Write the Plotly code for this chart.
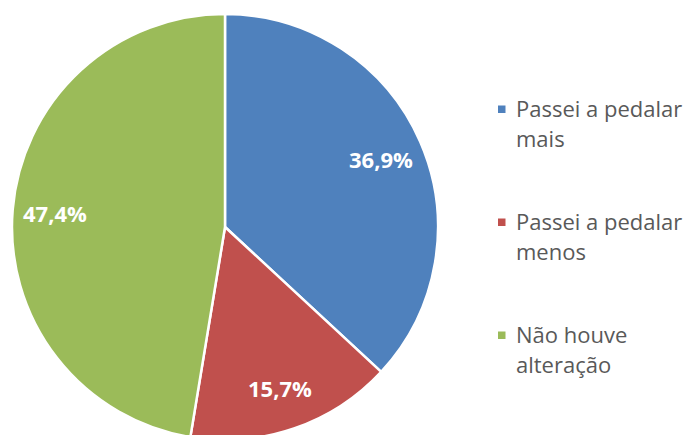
import math
import plotly.graph_objects as go

# dados do gráfico
categorias = ["Passei a pedalar<br>mais", "Passei a pedalar<br>menos", "Não houve<br>alteração"]
valores = [36.9, 15.7, 47.4]
rotulos = ["36,9%", "15,7%", "47,4%"]
cores = ["#4F81BD", "#C0504D", "#9BBB59"]

W, H = 693, 435

# geometria da pizza (px da figura)
cx, cy, R = 217, 219, 213

fig = go.Figure()

fig.add_trace(go.Pie(
    labels=categorias,
    values=valores,
    textinfo="none",
    marker=dict(colors=cores, line=dict(color="white", width=2.5)),
    sort=False,
    direction="clockwise",
    rotation=0,
    domain=dict(x=[(cx - R) / W, (cx + R) / W], y=[1 - (cy + R) / H, 1 - (cy - R) / H]),
    showlegend=False,
    hoverinfo="label+percent",
))

annotations = []
shapes = []

# rótulos de dados, posicionados no ângulo médio de cada fatia
total = sum(valores)
acum = 0
for v, rot in zip(valores, rotulos):
    meio = (acum + v / 2) / total * 2 * math.pi
    acum += v
    r = 0.8 * R
    px = cx + r * math.sin(meio)
    py = cy - r * math.cos(meio)
    annotations.append(dict(
        text=rot, xref="paper", yref="paper",
        x=px / W, y=1 - py / H, xanchor="center", yanchor="middle",
        showarrow=False,
        font=dict(family="Open Sans", size=22, color="white", weight="bold"),
    ))

# legenda desenhada à mão (duas linhas por item, espaçamento largo)
for i, (cat, cor) in enumerate(zip(categorias, cores)):
    y0 = 100 + 113 * i
    shapes.append(dict(
        type="rect", xref="paper", yref="paper",
        x0=490 / W, x1=497.5 / W,
        y0=1 - (y0 + 5) / H, y1=1 - (y0 - 2.5) / H,
        fillcolor=cor, line=dict(width=0),
    ))
    for j, linha in enumerate(cat.split("<br>")):
        annotations.append(dict(
            text=linha, xref="paper", yref="paper",
            x=506 / W, y=1 - (y0 + 30 * j) / H,
            xanchor="left", yanchor="middle", showarrow=False,
            font=dict(family="Open Sans", size=22, color="#595959"),
        ))

fig.update_layout(
    width=W,
    height=H,
    margin=dict(l=0, r=0, t=0, b=0),
    paper_bgcolor="white",
    plot_bgcolor="white",
    shapes=shapes,
    annotations=annotations,
)

fig.write_html("out.html")
